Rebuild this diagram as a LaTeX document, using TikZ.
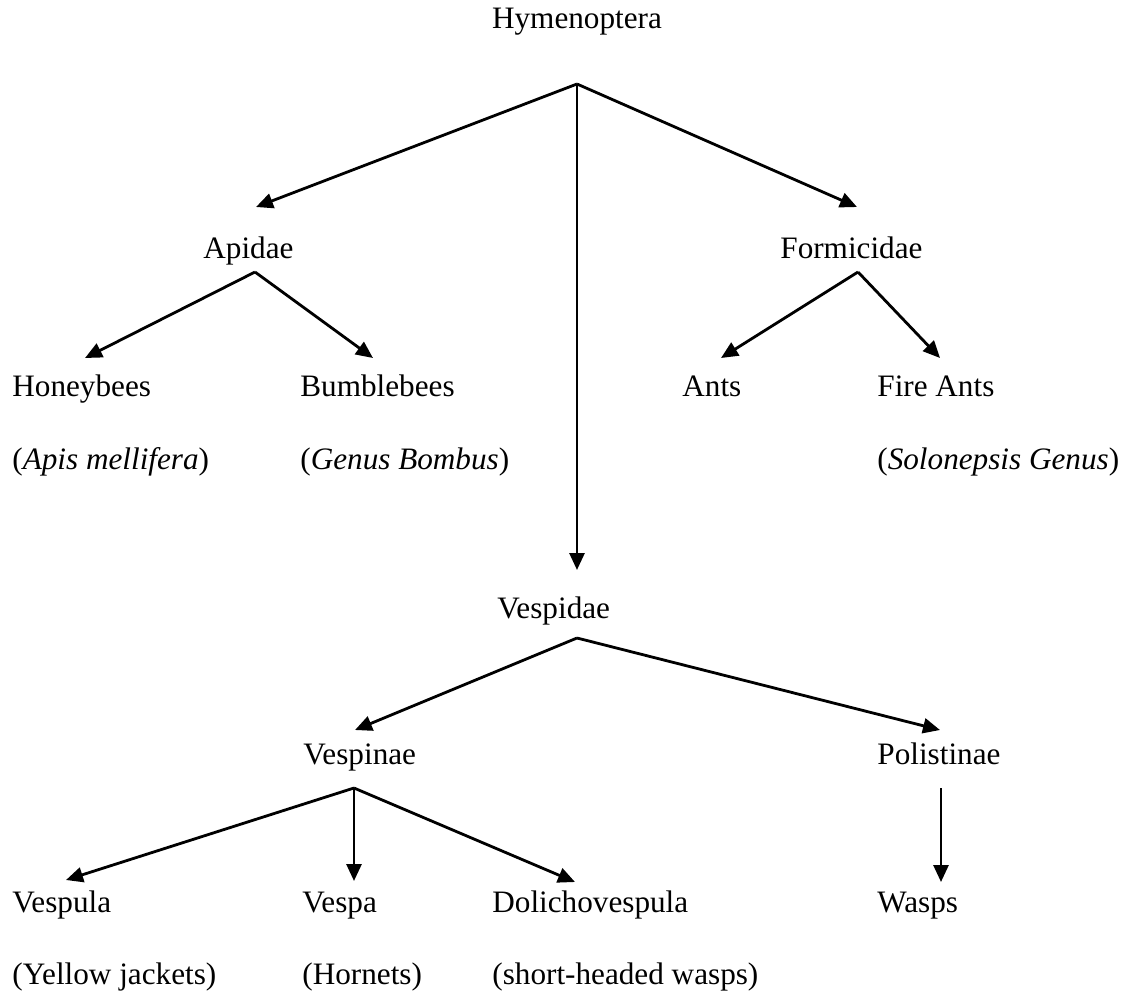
\documentclass[tikz,border=0pt]{standalone}
\usepackage{fontspec}
\setmainfont{Liberation Serif}
\usetikzlibrary{arrows.meta}
\begin{document}
\begin{tikzpicture}[x=0.5pt,y=-0.5pt,
  lbl/.style={inner sep=0pt, anchor=base west, font=\fontsize{15.6}{18}\selectfont},
  conn/.style={line width=1.4pt, -{Triangle[length=8.5pt,width=7.5pt]}}]
\useasboundingbox[fill=white] (0,0) rectangle (1136,997);
% texts
\node[lbl, anchor=base] (hym) at (577,28) {Hymenoptera};
\node[lbl] (api) at (203,258) {Apidae};
\node[lbl] (for) at (780,258) {Formicidae};
\node[lbl] (hon) at (12,396) {Honeybees};
\node[lbl] (bum) at (300,396) {Bumblebees};
\node[lbl] (ant) at (682,396) {Ants};
\node[lbl] (fir) at (877,396) {Fire Ants};
\node[lbl] (honl) at (12,469) {(\textit{Apis mellifera})};
\node[lbl] (buml) at (300,469) {(\textit{Genus Bombus})};
\node[lbl] (firl) at (877,469) {(\textit{Solonepsis Genus})};
\node[lbl] (ves) at (497,618) {Vespidae};
\node[lbl] (vin) at (303,764) {Vespinae};
\node[lbl] (pol) at (877,764) {Polistinae};
\node[lbl] (vla) at (12,912) {Vespula};
\node[lbl] (vpa) at (302,912) {Vespa};
\node[lbl] (dol) at (492,912) {Dolichovespula};
\node[lbl] (was) at (877,912) {Wasps};
\node[lbl] (vlal) at (12,984) {(Yellow jackets)};
\node[lbl] (vpal) at (302,984) {(Hornets)};
\node[lbl] (doll) at (492,984) {(short-headed wasps)};
% apexes
\coordinate (aH) at (577,84);
\coordinate (aA) at (255,272);
\coordinate (aF) at (858,272);
\coordinate (aV) at (577,638);
\coordinate (aVi) at (354,788);
\coordinate (aP) at (941,788);
% tips
\coordinate (tApi) at (256,207);
\coordinate (tFor) at (857,207);
\coordinate (tVes) at (577,570);
\coordinate (tHon) at (85,358);
\coordinate (tBum) at (373,358);
\coordinate (tAnt) at (721,358);
\coordinate (tFir) at (940,358);
\coordinate (tVin) at (355,730);
\coordinate (tPol) at (940,730);
\coordinate (tVla) at (66,880);
\coordinate (tVpa) at (354,881);
\coordinate (tDol) at (575,882);
\coordinate (tWas) at (941,882);
% connectors
\draw[conn] (aH) -- (tApi);
\draw[conn] (aH) -- (tFor);
\draw[conn] (aH) -- (tVes);
\draw[conn] (aA) -- (tHon);
\draw[conn] (aA) -- (tBum);
\draw[conn] (aF) -- (tAnt);
\draw[conn] (aF) -- (tFir);
\draw[conn] (aV) -- (tVin);
\draw[conn] (aV) -- (tPol);
\draw[conn] (aVi) -- (tVla);
\draw[conn] (aVi) -- (tVpa);
\draw[conn] (aVi) -- (tDol);
\draw[conn] (aP) -- (tWas);
\end{tikzpicture}
\end{document}
